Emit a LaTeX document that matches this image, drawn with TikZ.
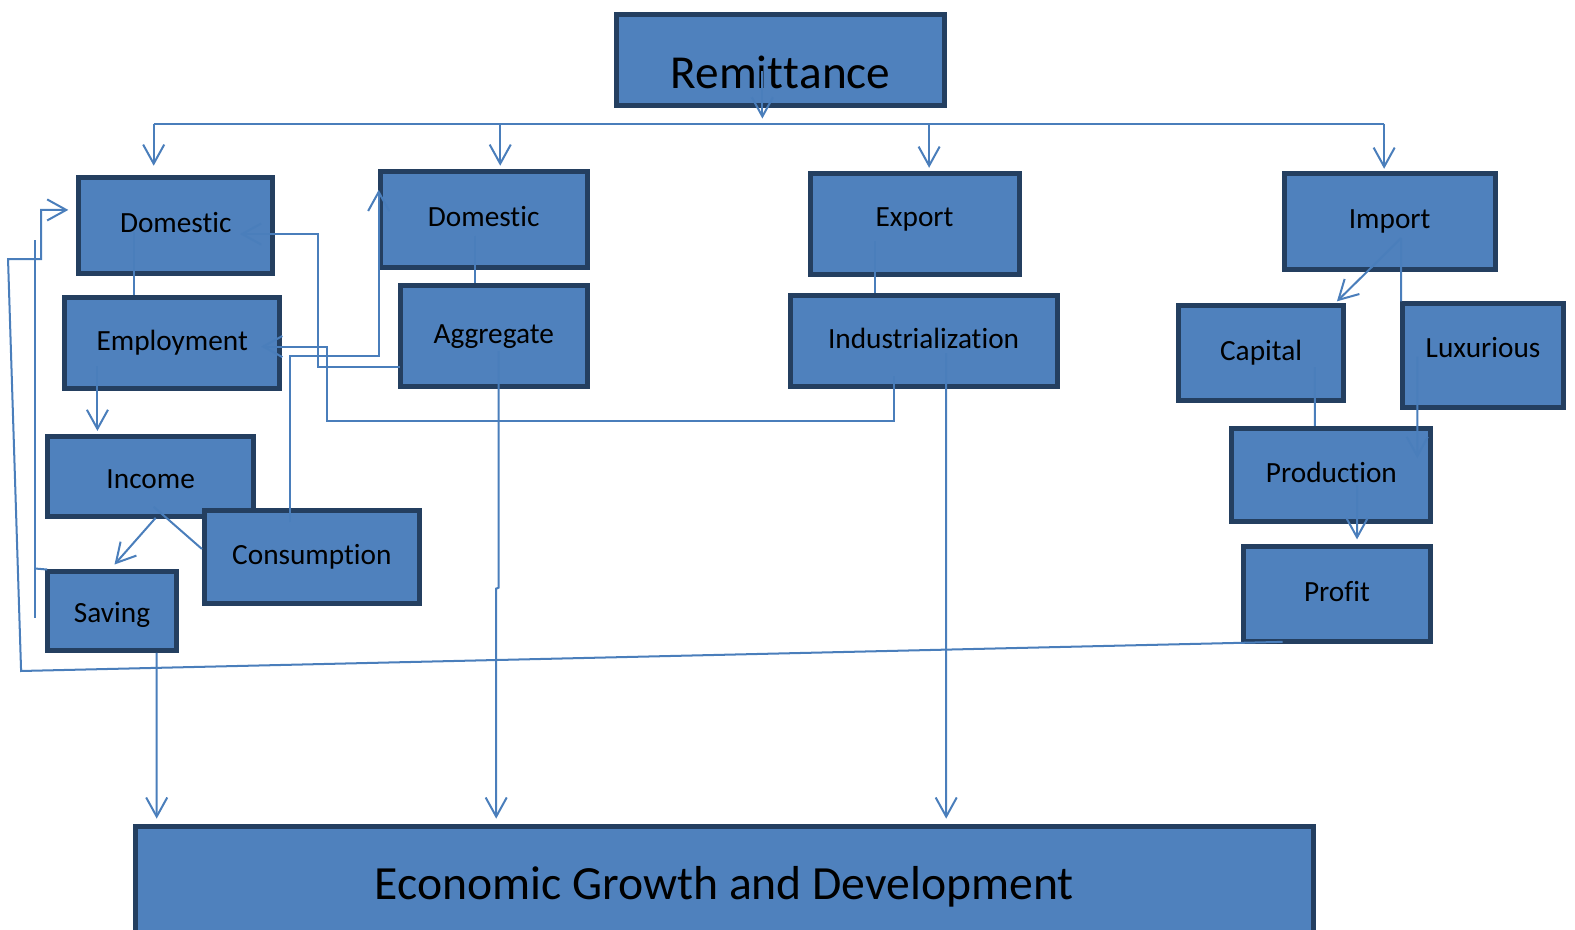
\documentclass[tikz,border=0pt]{standalone}
\usepackage{fontspec}
\setmainfont{Carlito}[Ligatures=NoCommon,RawFeature={-liga;-clig;-calt;-dlig}]
\usetikzlibrary{arrows.meta,calc}
\definecolor{boxfill}{HTML}{4F81BD}
\definecolor{boxline}{HTML}{243F60}
\definecolor{linkcol}{HTML}{4A7EBB}

\begin{document}
\begin{tikzpicture}
  [x=0.1mm, y=-0.1mm,
   box/.style={shape=rectangle, draw=boxline, fill=boxfill, line width=0.5mm, inner sep=0pt,
     font=\fontsize{8.3}{10}\selectfont, text height=6.2pt, text depth=2.1pt},
   bigbox/.style={box, font=\fontsize{13.4}{16}\selectfont, text height=10pt, text depth=3.4pt},
   txtdown/.style={text height=9pt},
   txtup/.style={text depth=4.9pt},
   link/.style={draw=linkcol, line width=0.2mm},
   arr/.style={link, -{Straight Barb[length=1.9mm,width=2.1mm]}}]
  \useasboundingbox (0,0) rectangle (1568,925);
  \clip (0,0) rectangle (1568,925);

  % boxes
  \node[bigbox, minimum width=32.7mm, minimum height=9.1mm, text height=19.2pt] (rem) at (777,60) {Remit\kern0pt t\kern0pt ance};
  \node[box, minimum width=19.3mm, minimum height=9.6mm] (dom1) at (175,224.5) {Domestic};
  \node[box, minimum width=20.6mm, minimum height=9.6mm] (dom2) at (481.5,218.5) {Domestic};
  \node[box, txtup, minimum width=20.8mm, minimum height=10.1mm] (exp) at (910.5,223) {Export};
  \node[box, minimum width=21mm, minimum height=9.6mm] (imp) at (1383.5,220.5) {Import};
  \node[box, minimum width=21.4mm, minimum height=9mm] (emp) at (171.5,341.5) {Employment};
  \node[box, minimum width=18.6mm, minimum height=10mm] (agg) at (491.5,334.5) {Aggregate};
  \node[box, minimum width=26.6mm, minimum height=9mm] (ind) at (919.5,339.5) {Industrializat\kern0pt ion};
  \node[box, minimum width=16.4mm, minimum height=9.4mm] (cap) at (1255.5,351.5) {Capital};
  \node[box, txtup, minimum width=16mm, minimum height=10.3mm] (lux) at (1476.5,354) {Luxurious};
  \node[box, txtdown, minimum width=20.5mm, minimum height=8mm] (inc) at (150,474.5) {Income};
  \node[box, minimum width=21.4mm, minimum height=9.2mm] (con) at (310.5,554.5) {Consumpt\kern0pt ion};
  \node[box, txtdown, minimum width=12.8mm, minimum height=7.9mm] (sav) at (111.5,608) {Saving};
  \node[box, minimum width=19.8mm, minimum height=9.3mm] (pro) at (1325.5,473) {Product\kern0pt ion};
  \node[box, minimum width=18.7mm, minimum height=9.4mm] (prf) at (1331,591.5) {Profit};
  \node[bigbox, font=\fontsize{13.5}{16}\selectfont, text height=12.4pt, minimum width=117.3mm, minimum height=11.5mm] (eco) at (721,880) {Economic Growth and Development};

  % remittance bus
  \coordinate (busL) at ($(dom1.north)+(-22,-51)$);
  \coordinate (busR) at ($(imp.north)+(-5.5,-47)$);
  \draw[arr] ($(rem.center)+(-18,11)$) -- ($(rem.south)+(-18,10)$);
  \draw[link] (busL) -- (busR);
  \draw[arr] (busL) -- ($(dom1.north)+(-22,-9)$);
  \draw[arr] ($(busL -| dom2.north)+(16.5,0)$) -- ($(dom2.north)+(16.5,-3)$);
  \draw[arr] ($(busL -| exp.north)+(14.5,0)$) -- ($(exp.north)+(14.5,-3)$);
  \draw[arr] (busR) -- ($(imp.north)+(-5.5,-2)$);

  % left branch
  \draw[link] ($(dom1.center)+(-42,6)$) -- ($(emp.north)+(-38.5,0)$);
  \draw[link] ($(dom2.center)+(-8.5,16)$) -- ($(agg.north)+(-18.5,0)$);
  \draw[link] ($(exp.center)+(-39.5,17)$) -- ($(ind.north)+(-48.5,0)$);
  \draw[arr] ($(emp.center)+(-74.5,23)$) -- ($(inc.north)+(-53,-3)$);
  \draw[arr] ($(inc.center)+(5,41)$) -- ($(sav.north)+(2.5,-4)$);
  \draw[link] ($(inc.center)+(3,30)$) -- ($(con.west)+(0,-8)$);
  \draw[arr] ($(con.center)+(-21.5,-34.5)$) |- ($(dom2.west)+(1,135.5)$) -- ($(dom2.west)+(1,-29.5)$);
  \draw[arr] ($(ind.center)+(-29.5,35)$) |- ($(emp.east)+(45,77.5)$) |- ($(emp.east)+(-21,3.5)$);
  \draw[arr] ($(agg.west)+(2,30.5)$) -| ($(dom1.east)+(43,8.5)$) -- ($(dom1.east)+(-35,8.5)$);

  % down to growth
  \draw[arr] ($(agg.center)+(5,15)$) -- ($(eco.north)+(-224.5,-235)$) -- ($(eco.north)+(-227,-234)$) -- ($(eco.north)+(-227,-5)$);
  \draw[arr] ($(ind.center)+(22.5,12)$) -- ($(eco.north)+(221,-5)$);
  \draw[arr] ($(sav.south)+(44.5,0)$) -- ($(eco.north)+(-565,-5)$);

  % import side
  \draw[arr] ($(imp.center)+(11.5,16.5)$) -- ($(cap.north east)+(-9,-2)$);
  \draw[link] ($(imp.center)+(11.5,16.5)$) -- ($(lux.north west)+(1,0)$);
  \draw[link] ($(cap.center)+(53.5,14)$) -- ($(pro.north)+(-16.5,0)$);
  \draw[arr] ($(lux.center)+(-65.5,1)$) -- ($(pro.center)+(85.5,-17)$);
  \draw[arr] ($(pro.center)+(25.5,10)$) -- ($(prf.north)+(20,-5)$);

  % profit back to domestic
  \coordinate (loopA) at (21,668);
  \coordinate (loopB) at (8,258);
  \draw[arr] ($(prf.south)+(-54,-2)$) -- (loopA) -- (loopB) -| ($(dom1.west)+(-35,-15.5)$) -- ($(dom1.west)+(-8,-15.5)$);
  \coordinate (sideT) at (35,239);
  \coordinate (sideB) at (35,615);
  \draw[link] (sideT) -- (sideB);
  \draw[link] ($(sav.north west)+(2,1)$) -- (sav.north west -| sideT);
\end{tikzpicture}
\end{document}
